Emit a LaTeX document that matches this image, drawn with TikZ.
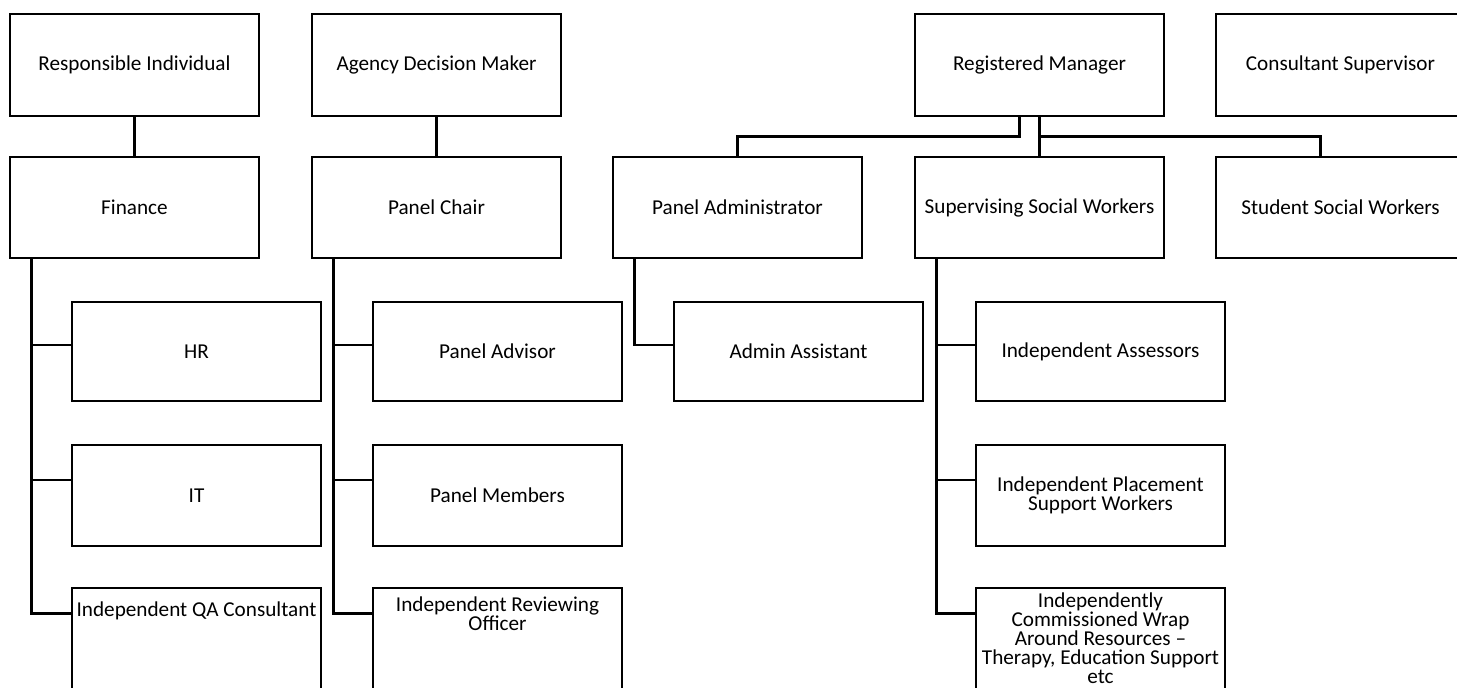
\documentclass[tikz,border=0pt]{standalone}
\usepackage{fontspec}
\setmainfont{Carlito}
\newcommand{\chartfont}{\fontsize{10.6}{9.5}\selectfont}
\tikzset{
  rolebox/.style={draw, line width=1.3pt, minimum width=124.5pt, minimum height=50.5pt,
    inner sep=0pt, align=center, font=\chartfont},
  orgline/.style={line width=1.3pt}
}
\begin{document}
\begin{tikzpicture}[x=0.5pt, y=-0.5pt]
  \useasboundingbox (0,0) rectangle (1457,687);
  \clip (0,0) rectangle (1457,687);
  % top row
  \node[rolebox, minimum height=51pt] (ri) at (134.5,65) {Responsible Individual};
  \node[rolebox, minimum height=51pt] (adm) at (436.5,65) {Agency Decision Maker};
  \node[rolebox, minimum height=51pt] (rm) at (1039.5,65) {Registered Manager};
  \node[rolebox, minimum height=51pt] (cs) at (1340.5,65) {Consultant Supervisor};
  % second row
  \node[rolebox] (fin) at (134.5,207.5) {Finance};
  \node[rolebox] (pc) at (436.5,207.5) {Panel Chair};
  \node[rolebox] (pa) at (737.5,207.5) {Panel Administrator};
  \node[rolebox] (ssw) at (1039.5,207.5) {Supervising Social Workers};
  \node[rolebox] (stu) at (1340.5,207.5) {Student Social Workers};
  % staff under each lead
  \node[rolebox, minimum height=49.5pt] (hr) at (196.5,351.5) {HR};
  \node[rolebox] (it) at (196.5,495.5) {IT};
  \node[rolebox] (qa) at (196.5,638.5) {};
  \node[font=\chartfont] at ([yshift=-12pt]qa.north) {Independent QA Consultant};
  \node[rolebox, minimum height=49.5pt] (padv) at (497.5,351.5) {Panel Advisor};
  \node[rolebox] (pmem) at (497.5,495.5) {Panel Members};
  \node[rolebox] (iro) at (497.5,638.5) {};
  \node[font=\chartfont, align=center] at ([yshift=-13.5pt]iro.north) {Independent Reviewing\\Officer};
  \node[rolebox, minimum height=49.5pt] (aa) at (798.5,351.5) {Admin Assistant};
  \node[rolebox, minimum height=49.5pt] (ia) at (1100.5,351.5) {Independent Assessors};
  \node[rolebox] (ipsw) at (1100.5,495.5) {Independent Placement\\Support Workers};
  \node[rolebox] (icwar) at (1100.5,638.5) {Independently\\Commissioned Wrap\\Around Resources --\\Therapy, Education Support\\etc};

  \draw[orgline] (ri) -- (fin);
  \draw[orgline] (adm) -- (pc);
  \draw[orgline] ([xshift=-10pt]rm.south) -- ++(0,19) -| (pa.north);
  \draw[orgline] (rm) -- (ssw);
  \draw[orgline] ([yshift=-9.5pt]rm.south) -| ([xshift=-10pt]stu.north);

  \foreach \p/\c/\dy in {fin/hr/3.25, fin/it/7.75, fin/qa/12.5,
      pc/padv/3.25, pc/pmem/7.75, pc/iro/12.5, pa/aa/3.25,
      ssw/ia/3.25, ssw/ipsw/7.75, ssw/icwar/12.5}
    \draw[orgline] ([xshift=11.5pt]\p.south west) |- ([yshift=\dy pt]\c.west);
\end{tikzpicture}
\end{document}
